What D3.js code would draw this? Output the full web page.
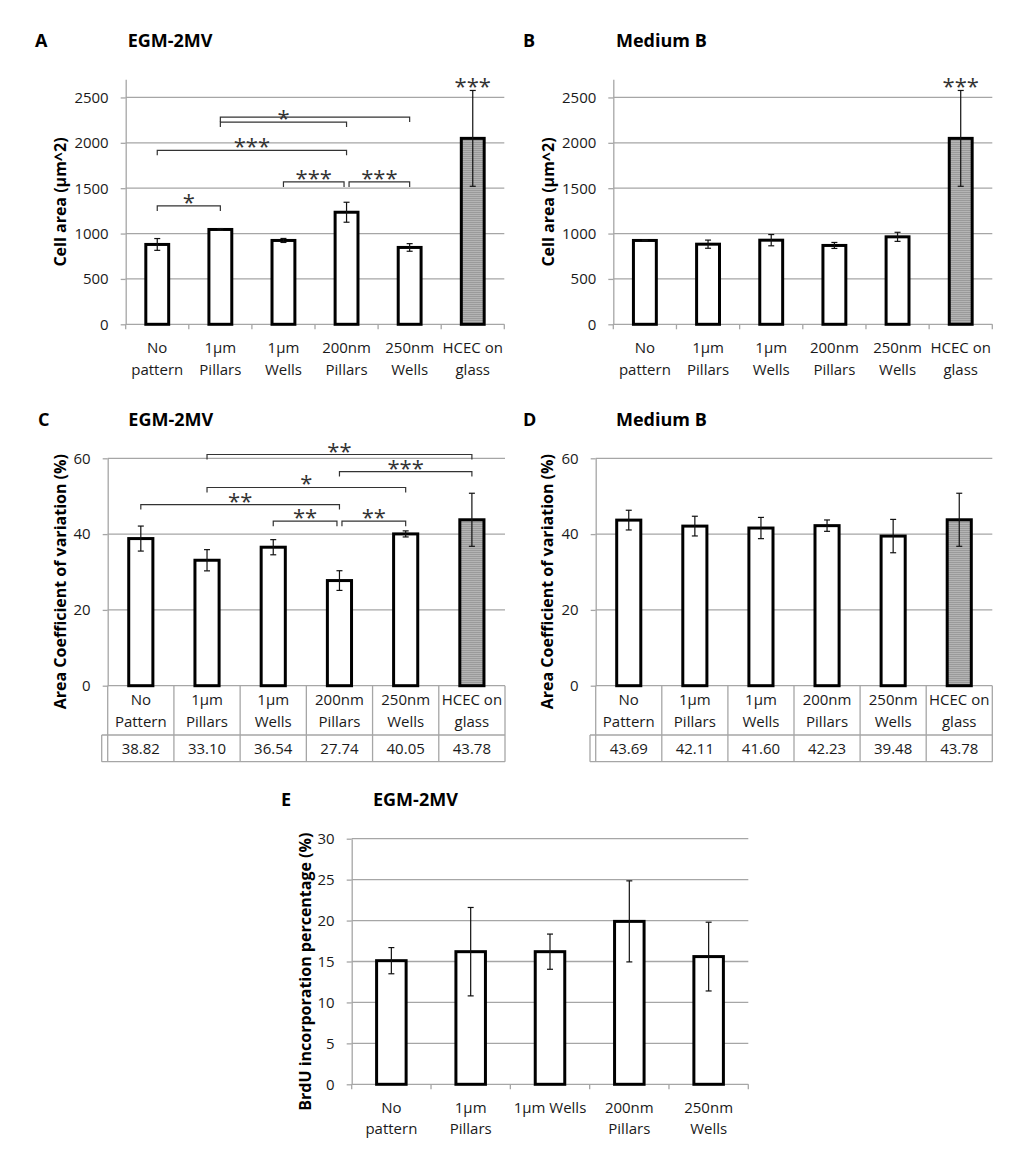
<!DOCTYPE html>
<html>
<head>
<meta charset="utf-8">
<script src="https://cdn.jsdelivr.net/npm/d3@7"></script>
<style>
  body { margin: 0; background: #fff; }
  svg text { font-family: "Open Sans", sans-serif; fill: #1a1a1a; }
</style>
</head>
<body>
<svg id="fig" width="1024" height="1155"></svg>
<script>
// categories (one array per line of the label)
const catsArea = [["No", "pattern"], ["1µm", "Pillars"], ["1µm", "Wells"], ["200nm", "Pillars"], ["250nm", "Wells"], ["HCEC on", "glass"]];
const catsCV = [["No", "Pattern"], ["1µm", "Pillars"], ["1µm", "Wells"], ["200nm", "Pillars"], ["250nm", "Wells"], ["HCEC on", "glass"]];
const catsBrdU = [["No", "pattern"], ["1µm", "Pillars"], ["1µm Wells"], ["200nm", "Pillars"], ["250nm", "Wells"]];

// cell area (µm^2), mean and error
const areaEGM = [880, 1045, 924, 1235, 847, 2049];
const areaEGMErr = [65, 10, 22, 110, 42, 528];
const areaMedB = [924, 883, 927, 869, 964, 2049];
const areaMedBErr = [4, 45, 62, 33, 50, 528];

// area coefficient of variation (%)
const cvEGM = [38.82, 33.10, 36.54, 27.74, 40.05, 43.78];
const cvEGMErr = [3.3, 2.8, 2.0, 2.6, 0.8, 7.0];
const cvMedB = [43.69, 42.11, 41.60, 42.23, 39.48, 43.78];
const cvMedBErr = [2.6, 2.6, 2.8, 1.5, 4.4, 7.0];

// BrdU incorporation (%)
const brdu = [15.1, 16.2, 16.2, 19.9, 15.6];
const brduErr = [1.6, 5.4, 2.15, 4.95, 4.2];

// significance brackets: [from, to, level, label]
const sigAreaEGM = [[0, 1, 1305, "*"], [2, 3, 1569, "***"], [3, 4, 1569, "***"], [0, 3, 1917, "***"], [1, 3, 2229, "*"], [1, 4, 2284, ""]];
const sigCvEGM = [[1, 5, 61.0, "**"], [3, 5, 56.5, "***"], [1, 4, 52.3, "*"], [0, 3, 47.8, "**"], [2, 3, 43.4, "**"], [3, 4, 43.4, "**"]];
// marks over single bars: [index, label]
const topAreaEGM = [[5, "***"]];
const topAreaMedB = [[5, "***"]];

const areaTicks = [0, 500, 1000, 1500, 2000, 2500];
const cvTicks = [0, 20, 40, 60];
const brduTicks = [0, 5, 10, 15, 20, 25, 30];

const svg = d3.select("#fig");
svg.append("rect").attr("width", 1024).attr("height", 1155).attr("fill", "#fff");

// grey fill with fine horizontal lines for the HCEC bars
const pat = svg.append("defs").append("pattern")
  .attr("id", "hatch").attr("patternUnits", "userSpaceOnUse")
  .attr("width", 4).attr("height", 2);
pat.append("rect").attr("width", 4).attr("height", 2).attr("fill", "#b4b4b4");
pat.append("rect").attr("width", 4).attr("height", 1).attr("fill", "#9a9a9a");

const GRID = "#a6a6a6";

function panel(o) {
  const g = svg.append("g");
  const n = o.values.length;
  const x = d3.scaleBand().domain(d3.range(n)).range([o.x0, o.x1]);
  const y = d3.scaleLinear().domain([0, o.max]).range([o.yb, o.yt]);
  const bw = x.bandwidth();
  const cx = i => x(i) + bw / 2;

  // titles
  g.append("text").attr("x", o.letterX).attr("y", o.titleY).text(o.letter)
    .style("font-weight", "bold").style("font-size", "18px").style("fill", "#000");
  g.append("text").attr("x", o.titleX).attr("y", o.titleY).text(o.title)
    .style("font-weight", "bold").style("font-size", "18px").style("fill", "#000");

  // gridlines
  g.selectAll("line.grid").data(o.ticks.filter(t => t > 0)).join("line")
    .attr("x1", o.x0).attr("x2", o.x1)
    .attr("y1", d => y(d)).attr("y2", d => y(d))
    .attr("stroke", GRID).attr("stroke-width", 1.3);

  // y axis
  const ax = g.append("g").attr("transform", `translate(${o.x0},0)`)
    .call(d3.axisLeft(y).tickValues(o.ticks).tickFormat(d3.format("d"))
      .tickSize(5).tickSizeOuter(0).tickPadding(12));
  ax.select(".domain").attr("stroke", GRID).attr("stroke-width", 1.3);
  ax.selectAll(".tick line").attr("stroke", GRID).attr("stroke-width", 1.3);
  ax.selectAll(".tick text").style("font-size", "15px").attr("font-family", null).attr("fill", null);

  g.append("text")
    .attr("transform", `translate(${o.ylabX},${o.ylabY}) rotate(-90)`)
    .attr("text-anchor", "middle").attr("dy", "0.35em")
    .style("font-weight", "bold").style("font-size", "16px").style("fill", "#000")
    .text(o.ylabel);

  // x axis line
  g.append("line").attr("x1", o.x0).attr("x2", o.x1).attr("y1", o.yb).attr("y2", o.yb)
    .attr("stroke", GRID).attr("stroke-width", 1.3);
  const bounds = d3.range(n).map(i => x(i)).concat([o.x1]);

  if (o.table) {
    const yb1 = o.yb + o.row1, yb2 = yb1 + o.row2;
    g.selectAll("line.vb").data(bounds).join("line")
      .attr("x1", d => d).attr("x2", d => d).attr("y1", o.yb).attr("y2", yb2)
      .attr("stroke", GRID).attr("stroke-width", 1.3);
    g.selectAll("line.hb").data([yb1, yb2]).join("line")
      .attr("x1", o.tableLeft).attr("x2", o.x1).attr("y1", d => d).attr("y2", d => d)
      .attr("stroke", GRID).attr("stroke-width", 1.3);
    g.append("line").attr("x1", o.tableLeft).attr("x2", o.tableLeft).attr("y1", yb1).attr("y2", yb2)
      .attr("stroke", GRID).attr("stroke-width", 1.3);
    g.selectAll("text.tv").data(o.values).join("text")
      .attr("x", (d, i) => cx(i)).attr("y", yb1 + o.valBase)
      .attr("text-anchor", "middle").style("font-size", "15px")
      .text(d => d3.format(".2f")(d));
  } else {
    g.selectAll("line.xt").data(bounds).join("line")
      .attr("x1", d => d).attr("x2", d => d).attr("y1", o.yb).attr("y2", o.yb + 5)
      .attr("stroke", GRID).attr("stroke-width", 1.3);
  }

  // category labels
  const lab = g.selectAll("text.cat").data(o.cats).join("text")
    .attr("text-anchor", "middle").style("font-size", "15px");
  lab.selectAll("tspan").data((d, i) => d.map(s => ({ s, i }))).join("tspan")
    .attr("x", d => cx(d.i))
    .attr("y", (d, j) => o.yb + o.lab1 + j * o.labGap)
    .text(d => d.s);

  // bars
  const w = 0.41 * bw - 3;
  g.selectAll("rect.bar").data(o.values).join("rect")
    .attr("x", (d, i) => cx(i) - w / 2).attr("width", w)
    .attr("y", d => y(d)).attr("height", d => o.yb - y(d))
    .attr("fill", (d, i) => o.cats[i][0].startsWith("HCEC") ? "url(#hatch)" : "#fff")
    .attr("stroke", "#000").attr("stroke-width", 3);

  // error bars
  const eb = g.selectAll("g.err").data(o.values).join("g");
  eb.append("line").attr("x1", (d, i) => cx(i)).attr("x2", (d, i) => cx(i))
    .attr("y1", (d, i) => y(d + o.errs[i])).attr("y2", (d, i) => y(d - o.errs[i]));
  eb.append("line").attr("x1", (d, i) => cx(i) - 3).attr("x2", (d, i) => cx(i) + 3)
    .attr("y1", (d, i) => y(d + o.errs[i])).attr("y2", (d, i) => y(d + o.errs[i]));
  eb.append("line").attr("x1", (d, i) => cx(i) - 3).attr("x2", (d, i) => cx(i) + 3)
    .attr("y1", (d, i) => y(d - o.errs[i])).attr("y2", (d, i) => y(d - o.errs[i]));
  eb.selectAll("line").attr("stroke", "#111").attr("stroke-width", 1.2);

  // significance brackets
  const sig = o.sig || [];
  sig.forEach(([a, b, lvl, label]) => {
    const sameLvl = sig.filter(s => s[2] === lvl);
    const xa = cx(a) + (sameLvl.some(s => s[1] === a) ? 2.5 : 0);
    const xb = cx(b) - (sameLvl.some(s => s[0] === b) ? 2.5 : 0);
    const yl = y(lvl);
    g.append("path")
      .attr("d", `M${xa},${yl + 5}V${yl}H${xb}V${yl + 5}`)
      .attr("fill", "none").attr("stroke", "#333").attr("stroke-width", 1.2);
    if (label) {
      g.append("text").attr("x", (xa + xb) / 2).attr("y", yl + 4)
        .attr("text-anchor", "middle").style("font-size", "22px").style("fill", "#333")
        .text(label);
    }
  });
  (o.top || []).forEach(([i, label]) => {
    g.append("text").attr("x", cx(i)).attr("y", y(o.values[i] + o.errs[i]) + 4)
      .attr("text-anchor", "middle").style("font-size", "22px").style("fill", "#333")
      .text(label);
  });
}

panel({
  letter: "A", title: "EGM-2MV", letterX: 35, titleX: 127.7, titleY: 46.7,
  x0: 125.7, x1: 504.3, yb: 324.3, yt: 79.3, max: 2700, ticks: areaTicks,
  values: areaEGM, errs: areaEGMErr, cats: catsArea,
  ylabel: "Cell area (µm^2)", ylabX: 60, ylabY: 202,
  lab1: 29, labGap: 22, sig: sigAreaEGM, top: topAreaEGM
});

panel({
  letter: "B", title: "Medium B", letterX: 523, titleX: 616, titleY: 46.7,
  x0: 613.3, x1: 992.3, yb: 324.3, yt: 79.3, max: 2700, ticks: areaTicks,
  values: areaMedB, errs: areaMedBErr, cats: catsArea,
  ylabel: "Cell area (µm^2)", ylabX: 548, ylabY: 202,
  lab1: 29, labGap: 22, top: topAreaMedB
});

panel({
  letter: "C", title: "EGM-2MV", letterX: 38, titleX: 128.3, titleY: 426,
  x0: 107.7, x1: 505, yb: 685.7, yt: 458.3, max: 60, ticks: cvTicks,
  values: cvEGM, errs: cvEGMErr, cats: catsCV,
  ylabel: "Area Coefficient of variation (%)", ylabX: 60, ylabY: 581.7,
  lab1: 19.5, labGap: 21.5, sig: sigCvEGM,
  table: true, tableLeft: 101.7, row1: 49.3, row2: 26.7, valBase: 19
});

panel({
  letter: "D", title: "Medium B", letterX: 523, titleX: 616, titleY: 426,
  x0: 595.7, x1: 992.3, yb: 685.7, yt: 458.3, max: 60, ticks: cvTicks,
  values: cvMedB, errs: cvMedBErr, cats: catsCV,
  ylabel: "Area Coefficient of variation (%)", ylabX: 547, ylabY: 581.7,
  lab1: 19.5, labGap: 21.5,
  table: true, tableLeft: 590, row1: 49.3, row2: 26.7, valBase: 19
});

panel({
  letter: "E", title: "EGM-2MV", letterX: 281, titleX: 373, titleY: 806,
  x0: 351.7, x1: 748.3, yb: 1084.3, yt: 838.7, max: 30, ticks: brduTicks,
  values: brdu, errs: brduErr, cats: catsBrdU,
  ylabel: "BrdU incorporation percentage (%)", ylabX: 305, ylabY: 971.7,
  lab1: 28.5, labGap: 21.5
});
</script>
</body>
</html>
